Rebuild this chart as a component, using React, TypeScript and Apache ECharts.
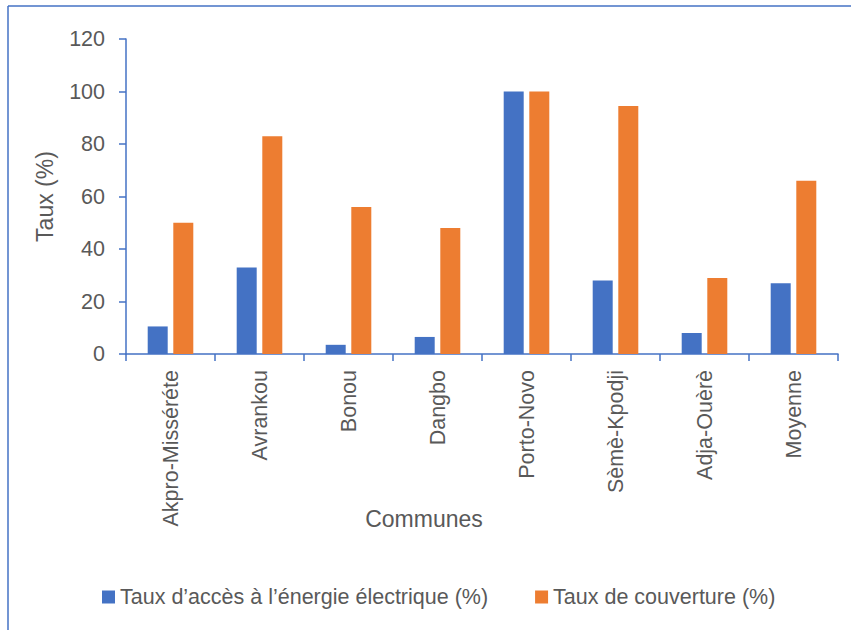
import React, { useEffect, useRef } from "react";
import * as echarts from "echarts";

const categories = [
  "Akpro-Misséréte",
  "Avrankou",
  "Bonou",
  "Dangbo",
  "Porto-Novo",
  "Sèmè-Kpodji",
  "Adja-Ouèrè",
  "Moyenne",
];
const accessRate = [10.5, 33, 3.5, 6.5, 100, 28, 8, 27];
const coverageRate = [50, 83, 56, 48, 100, 94.5, 29, 66];
const seriesNames = ["Taux d’accès à l’énergie électrique (%)", "Taux de couverture (%)"];
const xTitle = "Communes";
const yTitle = "Taux (%)";

const FONT = "Liberation Sans, Arial, sans-serif";
const TXT = "#595959";
const AXIS = "#4472C4";

export default function App() {
  const ref = useRef<HTMLDivElement>(null);
  useEffect(() => {
    if (!ref.current) return;
    const chart = echarts.init(ref.current, undefined, { renderer: "svg" });
    chart.setOption({
      animation: false,
      backgroundColor: "#ffffff",
      textStyle: { fontFamily: FONT },
      grid: { left: 126, right: 13, top: 39, bottom: 276, containLabel: false },
      legend: {
        left: 97,
        top: 581,
        itemWidth: 13,
        itemHeight: 13,
        itemGap: 47,
        icon: "rect",
        textStyle: { fontFamily: FONT, fontSize: 21.5, color: TXT },
        data: seriesNames,
      },
      xAxis: {
        type: "category",
        data: categories,
        axisLine: { lineStyle: { color: AXIS, width: 1.5 } },
        axisTick: { show: true, length: 7, lineStyle: { color: AXIS, width: 1.5 } },
        axisLabel: { rotate: 90, margin: 16, fontSize: 21.5, color: TXT, fontFamily: FONT, interval: 0 },
      },
      yAxis: {
        type: "value",
        min: 0,
        max: 120,
        interval: 20,
        name: yTitle,
        nameLocation: "middle",
        nameRotate: 90,
        nameGap: 70,
        nameTextStyle: { fontFamily: FONT, fontSize: 23, color: TXT },
        axisLine: { show: true, lineStyle: { color: AXIS, width: 1.5 } },
        axisTick: { show: true, length: 7, lineStyle: { color: AXIS, width: 1.5 } },
        axisLabel: { margin: 21, fontSize: 21.5, color: TXT, fontFamily: FONT },
        splitLine: { show: false },
      },
      series: [
        {
          name: seriesNames[0],
          type: "bar",
          data: accessRate,
          barWidth: 20,
          barGap: "28%",
          itemStyle: { color: "#4472C4" },
        },
        {
          name: seriesNames[1],
          type: "bar",
          data: coverageRate,
          barWidth: 20,
          itemStyle: { color: "#ED7D31" },
        },
      ],
      graphic: [
        { type: "line", shape: { x1: 8, y1: 6, x2: 8, y2: 630 }, style: { stroke: AXIS, lineWidth: 1.5 } },
        { type: "line", shape: { x1: 8, y1: 6, x2: 851, y2: 6 }, style: { stroke: AXIS, lineWidth: 1.5 } },
        {
          type: "text",
          x: 424,
          y: 519,
          style: {
            text: xTitle,
            fontFamily: FONT,
            fontSize: 23,
            fill: TXT,
            align: "center",
            verticalAlign: "middle",
          },
        },
      ],
    });
    return () => chart.dispose();
  }, []);
  return (
    <div
      ref={ref}
      style={{ position: "fixed", left: 0, top: 0, width: 851, height: 630, background: "#fff" }}
    />
  );
}
